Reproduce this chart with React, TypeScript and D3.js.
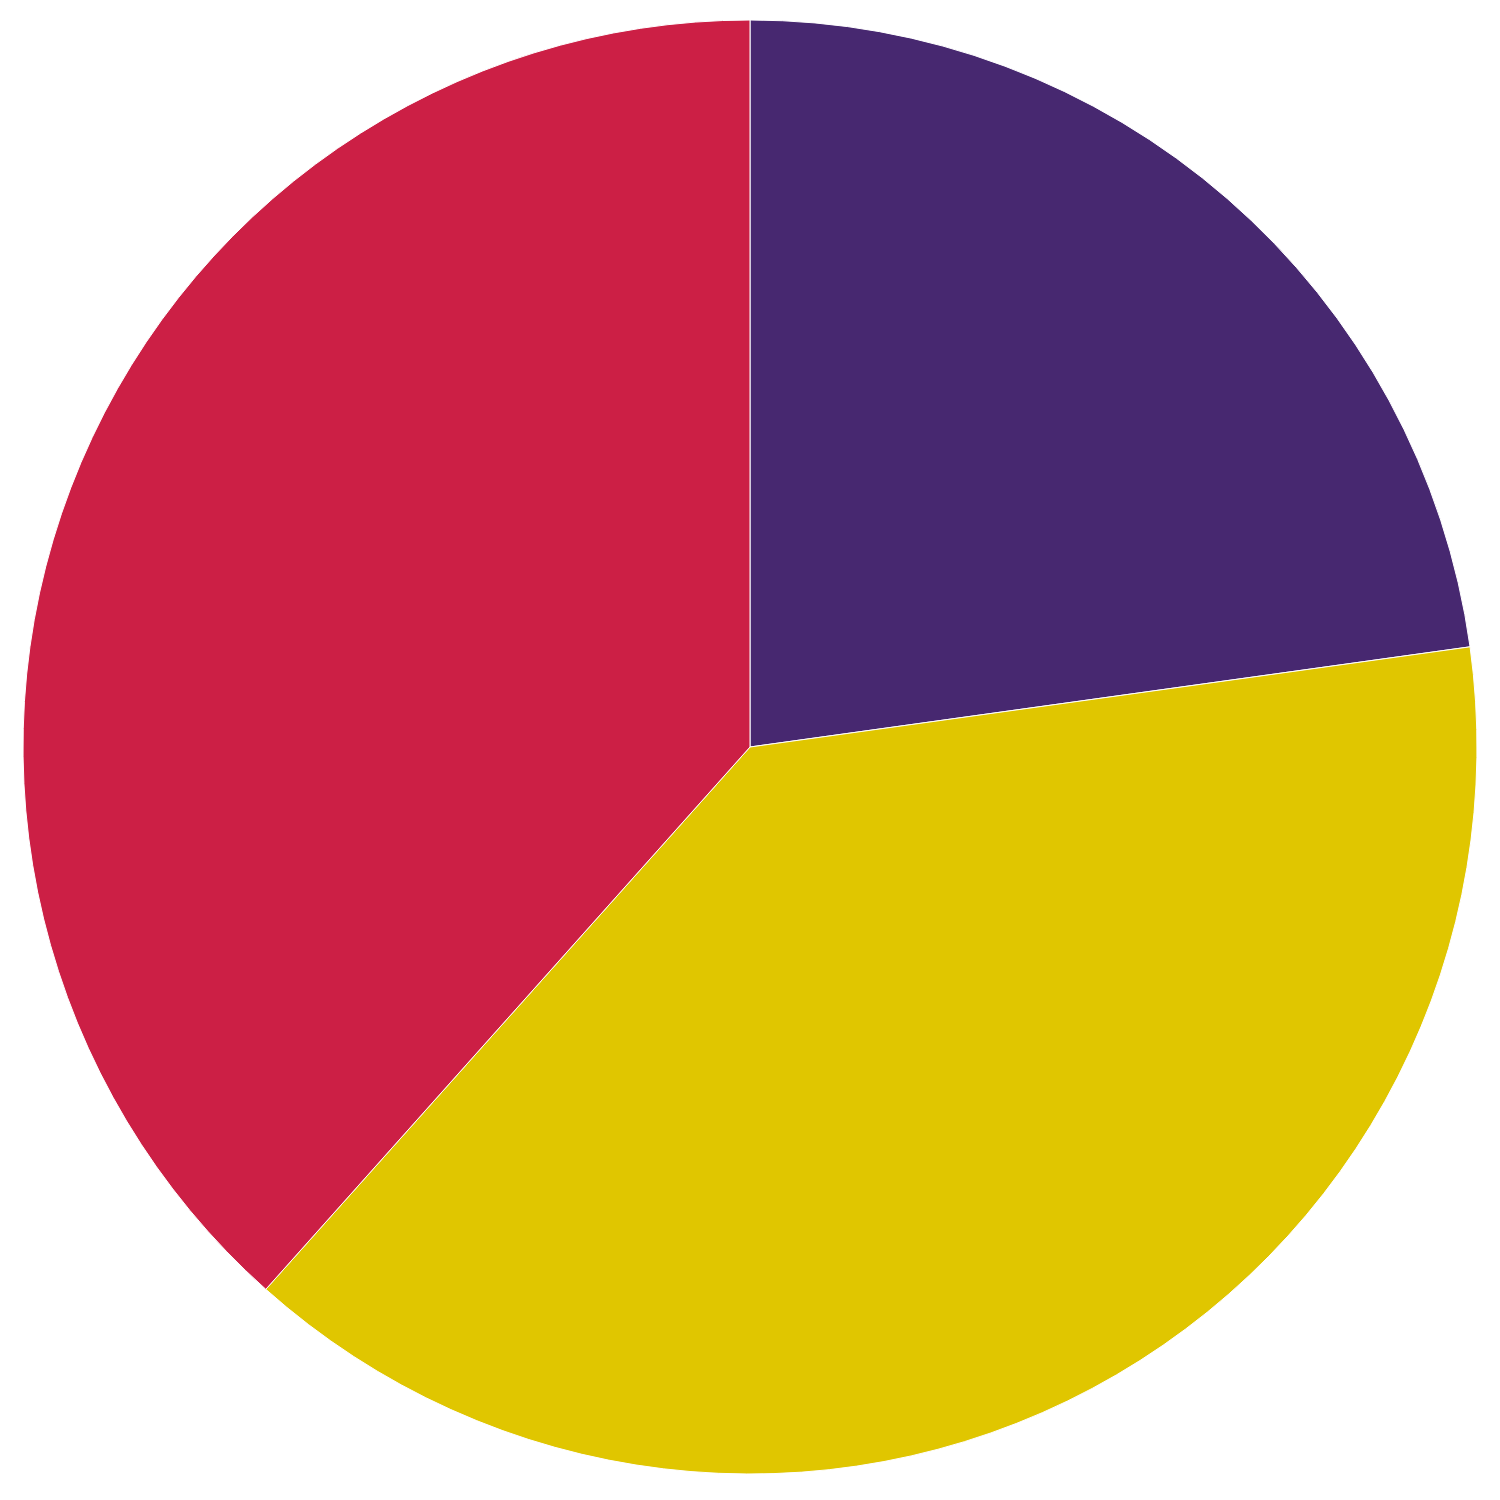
import * as d3 from "d3";

const labels = ["A", "B", "C"];
const values = [22.8, 38.8, 38.4];
const colors = ["#472870", "#e0c600", "#cc1f45"];

export default function App() {
  const width = 1500;
  const height = 1500;
  const cx = 750;
  const cy = 747;
  const radius = 727;

  const pie = d3
    .pie<number>()
    .sort(null)
    .value((d) => d);

  const arc = d3
    .arc<d3.PieArcDatum<number>>()
    .innerRadius(0)
    .outerRadius(radius);

  const arcs = pie(values);

  return (
    <svg
      width={width}
      height={height}
      style={{ position: "absolute", left: 0, top: 0, background: "#fff" }}
    >
      <g transform={`translate(${cx}, ${cy})`}>
        {arcs.map((a, i) => (
          <path
            key={labels[i]}
            d={arc(a)!}
            fill={colors[i]}
            stroke="#fff"
            strokeWidth={1}
          />
        ))}
      </g>
    </svg>
  );
}
